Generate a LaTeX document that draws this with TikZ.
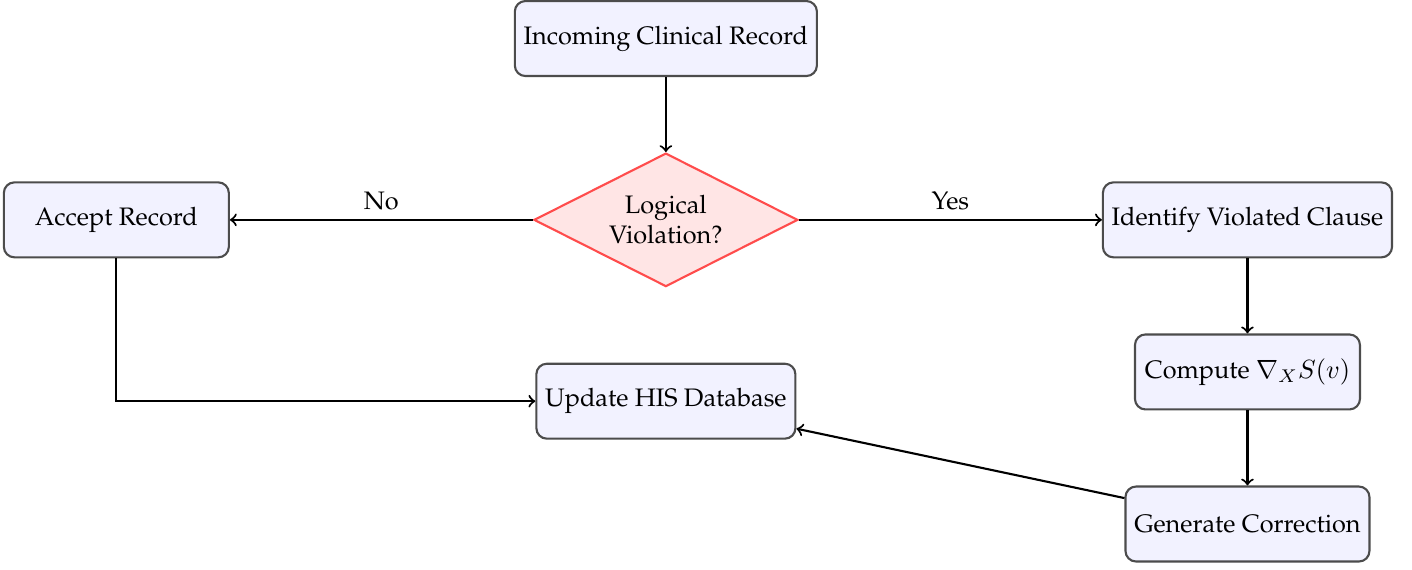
\documentclass[tikz,border=0pt]{standalone}
\usepackage[T1]{fontenc}
\usepackage{palatino}
\usepackage{amsmath}
\usepackage{tikz}
\usetikzlibrary{shapes,arrows}
\usetikzlibrary{positioning}
\tikzstyle{arrow} = [thick,->]
\tikzstyle{stepbox} = [
    rectangle, rounded corners, minimum width=3cm, minimum height=1cm,
    text centered, draw=black!70, thick, fill=blue!5]
\tikzstyle{decision} = [
    diamond, aspect=2, minimum width=3.52cm, minimum height=1.78cm, inner sep=1pt,
    align=center, draw=red!70, thick, fill=red!10]

\begin{document}
\begin{tikzpicture}[node distance=1cm, font=\fontsize{9.6}{11.5}\selectfont]
\node (incoming) [stepbox] {Incoming Clinical Record};
\node (violation) [decision, below=of incoming] {Logical\\Violation?};
\node (accept) [stepbox, left=4.04cm of violation] {Accept Record};
\node (identify) [stepbox, right=4.04cm of violation] {Identify Violated Clause};
\node (gradient) [stepbox, below=of identify] {Compute $\nabla_X S(v)$};
\node (correction) [stepbox, below=of gradient] {Generate Correction};
\node (update) [stepbox, below=of violation] {Update HIS Database};

\useasboundingbox (-8.88,0.48) rectangle (9.95,-7.08);

\draw [arrow] (incoming) -- (violation);
\draw [arrow] (violation) -- node[above] {No} (accept);
\draw [arrow] (violation) -- node[above] {Yes} (identify);
\draw [arrow] (identify) -- (gradient);
\draw [arrow] (gradient) -- (correction);
\draw [arrow] (accept) |- (update);
\draw [arrow] (correction) -- (update);
\end{tikzpicture}
\end{document}
